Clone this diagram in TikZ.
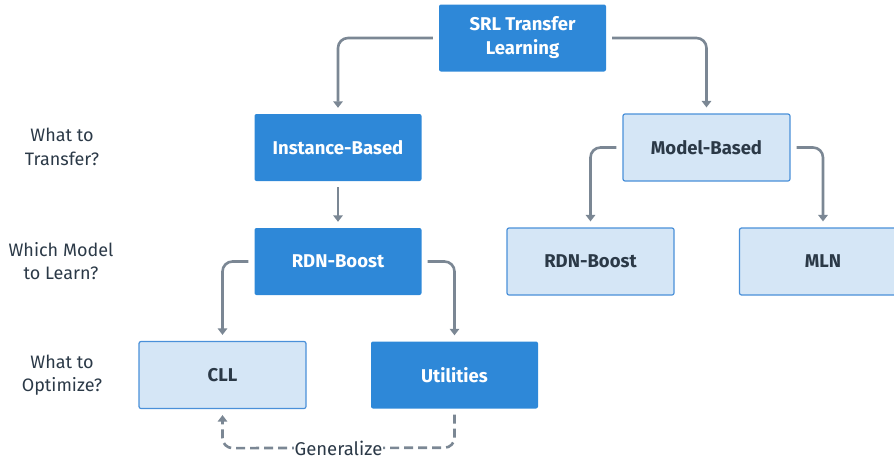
\documentclass[tikz,border=0pt]{standalone}
\usepackage{fontspec}
\setmainfont{Fira Sans}
\usetikzlibrary{arrows.meta,calc}
\definecolor{darkbox}{HTML}{2E88D8}
\definecolor{lightbox}{HTML}{D5E6F6}
\definecolor{lightedge}{HTML}{4A90D9}
\definecolor{inktext}{HTML}{2B3947}
\definecolor{wire}{HTML}{7B8794}
\tikzset{
  box/.style={minimum width=167pt, minimum height=67pt, rounded corners=2pt,
    inner sep=0pt, align=center, font=\fontsize{18.5}{24}\selectfont\bfseries},
  darknode/.style={box, fill=darkbox, text=white},
  lightnode/.style={box, fill=lightbox, draw=lightedge, line width=1.2pt, text=inktext},
  question/.style={align=center, text=inktext, font=\fontsize{18}{23.5}\selectfont},
  conn/.style={draw=wire, line width=2.6pt, rounded corners=10pt,
    shorten <=6pt, shorten >=6pt, -{Triangle[width=9.5pt,length=6.5pt]}},
  dconn/.style={conn, dash pattern=on 9pt off 5pt},
}
\begin{document}
\begin{tikzpicture}[x=1pt,y=-1pt]
  \useasboundingbox (0,0) rectangle (894,461);
  \clip (0,0) rectangle (894,461);

  % boxes of the tree
  \node[darknode]  (srl)   at (522.5, 38)   {SRL Transfer\\Learning};
  \node[darknode]  (inst)  at (338, 147.5)  {Instance-Based};
  \node[lightnode] (model) at (706.5, 147.5) {Model-Based};
  \node[darknode]  (rdnL)  at (338, 261.5)  {RDN-Boost};
  \node[lightnode] (rdnR)  at (590.5, 261.5) {RDN-Boost};
  \node[lightnode] (mln)   at (823, 261.5)  {MLN};
  \node[lightnode] (cll)   at (222.5, 375)  {CLL};
  \node[darknode]  (util)  at (454.5, 375)  {Utilities};

  % questions on the left
  \node[question] (q1) at (62, 147) {What to\\Transfer?};
  \node[question] (q2) at (61, 261) {Which Model\\to Learn?};
  \node[question] (q3) at (62, 375) {What to\\Optimize?};

  % connectors
  \draw[conn] (srl.west) -| (inst.north);
  \draw[conn] (srl.east) -| (model.north);
  \draw[conn] (inst.south) -- (rdnL.north);
  \draw[conn] (model.west) -| (rdnR.north);
  \draw[conn] (model.east) -| (mln.north);
  \draw[conn] (rdnL.west) -| (cll.north);
  \draw[conn] (rdnL.east) -| (util.north);

  % generalisation loop
  \coordinate (loopR) at ([yshift=-39pt]util.south);
  \coordinate (loopL) at ([yshift=-39pt]cll.south);
  \draw[dconn] (util.south) -- (loopR) -- (loopL) -- (cll.south);
  \node[fill=white, inner sep=1pt, text=inktext, font=\fontsize{18.5}{20}\selectfont] (gen)
    at ($(loopL)!0.5!(loopR)$) {Generalize};
\end{tikzpicture}
\end{document}
